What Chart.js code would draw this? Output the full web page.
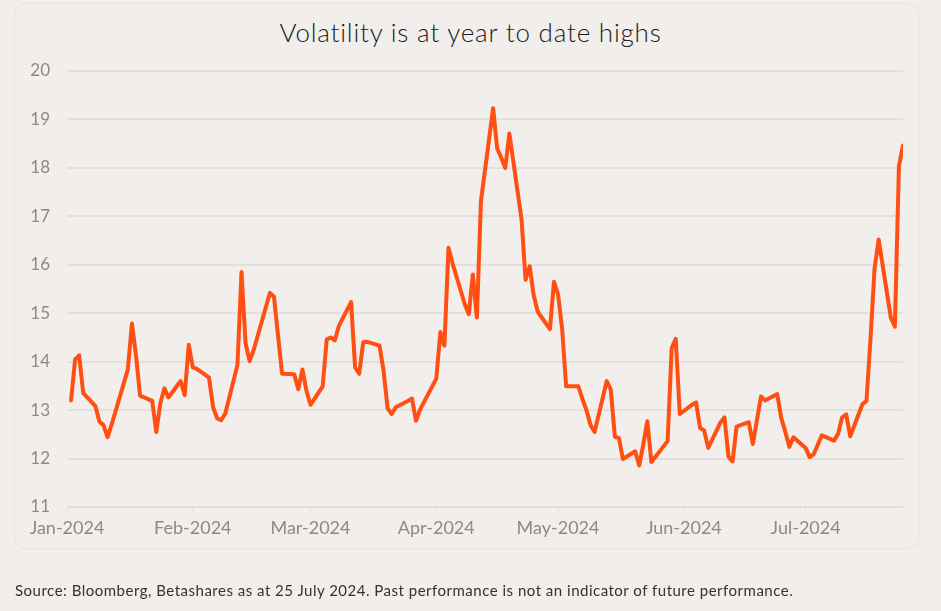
<!DOCTYPE html>
<html>
<head>
<meta charset="utf-8">
<script src="https://cdn.jsdelivr.net/npm/chart.js@4.4.1/dist/chart.umd.min.js"></script>
<style>
  html, body { margin: 0; padding: 0; background: #f1eeeb; width: 941px; height: 611px; overflow: hidden; }
  #card { position: absolute; left: 15px; top: 4px; width: 903px; height: 544px; border-radius: 10px;
          background: #f1eeeb; box-shadow: 0 0 3px rgba(0,0,0,0.10); }
  #title { position: absolute; left: 0; top: 15px; width: 941px; text-align: center;
           font-family: Lato, "Open Sans", sans-serif; font-weight: 300; font-size: 26px; letter-spacing: 0.8px;
           color: #1a1a1a; line-height: 34px; }
  #footer { position: absolute; left: 15px; top: 580px; font-family: Lato, "Open Sans", sans-serif;
            font-size: 15px; letter-spacing: 0.5px; color: #333; line-height: 20px; white-space: nowrap; }
  #wrap { position: absolute; left: 0; top: 0; width: 941px; height: 611px; }
</style>
</head>
<body>
<div id="card"></div>
<div id="title">Volatility is at year to date highs</div>
<div id="wrap"><canvas id="c" width="941" height="611"></canvas></div>
<div id="footer">Source: Bloomberg, Betashares as at 25 July 2024. Past performance is not an indicator of future performance.</div>
<script>
const dates = [
 "2024-01-02","2024-01-03","2024-01-04","2024-01-05","2024-01-08","2024-01-09","2024-01-10","2024-01-11","2024-01-12",
 "2024-01-16","2024-01-17","2024-01-18","2024-01-19","2024-01-22","2024-01-23","2024-01-24","2024-01-25","2024-01-26",
 "2024-01-29","2024-01-30","2024-01-31","2024-02-01","2024-02-02","2024-02-05","2024-02-06","2024-02-07","2024-02-08",
 "2024-02-09","2024-02-12","2024-02-13","2024-02-14","2024-02-15","2024-02-16","2024-02-20","2024-02-21","2024-02-22",
 "2024-02-23","2024-02-26","2024-02-27","2024-02-28","2024-02-29","2024-03-01","2024-03-04","2024-03-05","2024-03-06",
 "2024-03-07","2024-03-08","2024-03-11","2024-03-12","2024-03-13","2024-03-14","2024-03-15","2024-03-18","2024-03-19",
 "2024-03-20","2024-03-21","2024-03-22","2024-03-25","2024-03-26","2024-03-27","2024-03-28","2024-04-01","2024-04-02",
 "2024-04-03","2024-04-04","2024-04-05","2024-04-08","2024-04-09","2024-04-10","2024-04-11","2024-04-12","2024-04-15",
 "2024-04-16","2024-04-17","2024-04-18","2024-04-19","2024-04-22","2024-04-23","2024-04-24","2024-04-25","2024-04-26",
 "2024-04-29","2024-04-30","2024-05-01","2024-05-02","2024-05-03","2024-05-06","2024-05-07","2024-05-08","2024-05-09",
 "2024-05-10","2024-05-13","2024-05-14","2024-05-15","2024-05-16","2024-05-17","2024-05-20","2024-05-21","2024-05-22",
 "2024-05-23","2024-05-24","2024-05-28","2024-05-29","2024-05-30","2024-05-31","2024-06-03","2024-06-04","2024-06-05",
 "2024-06-06","2024-06-07","2024-06-10","2024-06-11","2024-06-12","2024-06-13","2024-06-14","2024-06-17","2024-06-18",
 "2024-06-20","2024-06-21","2024-06-24","2024-06-25","2024-06-26","2024-06-27","2024-06-28","2024-07-01","2024-07-02",
 "2024-07-03","2024-07-05","2024-07-08","2024-07-09","2024-07-10","2024-07-11","2024-07-12","2024-07-15","2024-07-16",
 "2024-07-17","2024-07-18","2024-07-19","2024-07-22","2024-07-23","2024-07-24","2024-07-25"
];
const vix = [
 13.20,14.04,14.13,13.35,13.08,12.76,12.69,12.44,12.70,
 13.84,14.79,14.13,13.30,13.19,12.55,13.14,13.45,13.26,
 13.60,13.31,14.35,13.88,13.85,13.67,13.06,12.83,12.79,
 12.93,13.93,15.85,14.38,14.01,14.24,15.42,15.34,14.54,
 13.75,13.74,13.43,13.84,13.40,13.11,13.49,14.46,14.50,
 14.44,14.74,15.23,13.88,13.75,14.40,14.41,14.33,13.82,
 13.04,12.92,13.06,13.19,13.24,12.78,13.01,13.65,14.61,
 14.33,16.35,16.03,15.19,14.98,15.80,14.91,17.31,19.23,
 18.40,18.21,18.00,18.71,16.94,15.69,15.97,15.37,15.03,
 14.67,15.65,15.39,14.68,13.49,13.49,13.23,13.00,12.69,
 12.55,13.60,13.42,12.45,12.42,11.99,12.15,11.86,12.29,
 12.77,11.93,12.36,14.28,14.47,12.92,13.11,13.16,12.63,
 12.58,12.22,12.74,12.85,12.04,11.94,12.66,12.75,12.30,
 13.28,13.20,13.33,12.84,12.55,12.24,12.44,12.22,12.03,
 12.09,12.48,12.37,12.51,12.85,12.91,12.46,13.12,13.19,
 14.48,15.93,16.52,14.91,14.72,18.04,18.46
];
const monthStarts = ["2024-01-01","2024-02-01","2024-03-01","2024-04-01","2024-05-01","2024-06-01","2024-07-01"];
const monthLabels = ["Jan-2024","Feb-2024","Mar-2024","Apr-2024","May-2024","Jun-2024","Jul-2024"];
const yTicks = [11,12,13,14,15,16,17,18,19,20];
const axisStart = "2024-01-01";
const axisEnd = "2024-07-25";

const DAY = 86400000;
const toDay = s => Math.round((Date.parse(s + "T00:00:00Z") - Date.parse(axisStart + "T00:00:00Z")) / DAY);
const points = dates.map((d, i) => ({ x: toDay(d), y: vix[i] }));
const monthDays = monthStarts.map(toDay);

const gridColor = "#e2dfdc";

new Chart(document.getElementById("c"), {
  type: "line",
  data: { datasets: [{ data: points, borderColor: "#ff4f12", borderWidth: 4, pointRadius: 0,
                       tension: 0, fill: false, borderJoinStyle: "round", borderCapStyle: "round" }] },
  options: {
    responsive: false, animation: false,
    layout: { padding: { top: 71, right: 38, left: 0, bottom: 0 } },
    plugins: { legend: { display: false }, tooltip: { enabled: false } },
    scales: {
      x: {
        type: "linear", min: toDay(axisStart), max: toDay(axisEnd),
        afterBuildTicks: s => { s.ticks = monthDays.map(v => ({ value: v })); },
        afterFit: s => { s.height = 104; },
        ticks: { font: { family: "Lato, 'Open Sans', sans-serif", size: 18 }, color: "#8a8a8a", padding: 3,
                 maxRotation: 0, autoSkip: false,
                 callback: v => { const i = monthDays.indexOf(v); return i >= 0 ? monthLabels[i] : ""; } },
        grid: { drawOnChartArea: false, drawTicks: true, tickLength: 7, color: gridColor, lineWidth: 1 },
        border: { display: false }
      },
      y: {
        min: 11, max: 20,
        afterBuildTicks: s => { s.ticks = yTicks.map(v => ({ value: v })); },
        afterFit: s => { s.width = 67; },
        ticks: { font: { family: "Lato, 'Open Sans', sans-serif", size: 17 }, color: "#8a8a8a", padding: 17 },
        grid: { drawTicks: false, color: gridColor, lineWidth: 2 },
        border: { display: false }
      }
    }
  }
});
</script>
</body>
</html>
